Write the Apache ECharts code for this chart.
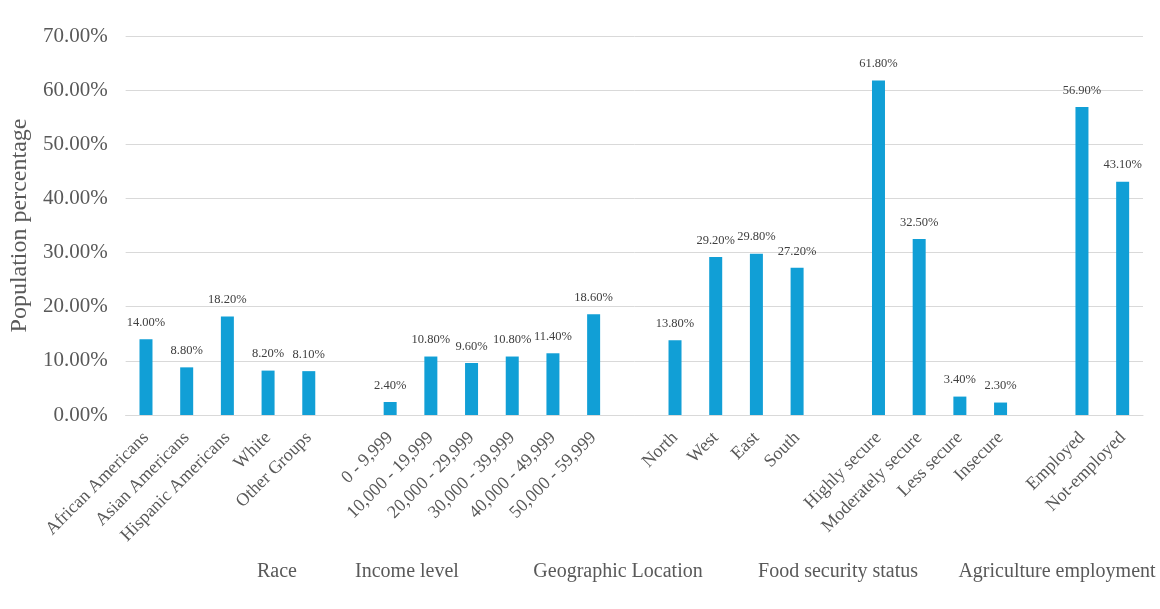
<!DOCTYPE html>
<html>
<head>
<meta charset="utf-8">
<script src="https://cdn.jsdelivr.net/npm/echarts@6/dist/echarts.min.js"></script>
<style>html,body{margin:0;padding:0;background:#fff}#c{width:1160px;height:609px}</style>
</head>
<body>
<div id="c"></div>
<script>
const categories = ['African Americans','Asian Americans','Hispanic Americans','White','Other Groups','',
  '0 - 9,999','10,000 - 19,999','20,000 - 29,999','30,000 - 39,999','40,000 - 49,999','50,000 - 59,999','',
  'North','West','East','South','',
  'Highly secure','Moderately secure','Less secure','Insecure','',
  'Employed','Not-employed'];
const values = [14.0, 8.8, 18.2, 8.2, 8.1, null,
  2.4, 10.8, 9.6, 10.8, 11.4, 18.6, null,
  13.8, 29.2, 29.8, 27.2, null,
  61.8, 32.5, 3.4, 2.3, null,
  56.9, 43.1];
const groupLabels = ['Race','Income level','Geographic Location','Food security status','Agriculture employment'];
const groupLabelX = [277, 407, 618, 838, 1057];
const yTicks = [0,10,20,30,40,50,60,70];

const font = '"Liberation Serif", "Times New Roman", serif';
const chart = echarts.init(document.getElementById('c'));
chart.setOption({
  animation: false,
  backgroundColor: '#fff',
  grid: {left: 121, right: 17, top: 36, bottom: 194, containLabel: false},
  xAxis: {
    type: 'category', data: categories,
    axisLine: {lineStyle: {color: '#d9d9d9', width: 1}},
    axisTick: {show: false},
    axisLabel: {interval: 0, rotate: 45, fontFamily: font, fontSize: 18, color: '#595959', margin: 20}
  },
  yAxis: {
    type: 'value', min: 0, max: 70, interval: 10,
    name: 'Population percentage', nameLocation: 'middle', nameGap: 88, nameRotate: 90,
    nameTextStyle: {fontFamily: font, fontSize: 24, color: '#595959'},
    axisLine: {show: false}, axisTick: {show: false},
    axisLabel: {fontFamily: font, fontSize: 21, color: '#595959', margin: 18,
      formatter: v => v.toFixed(2) + '%'},
    splitLine: {lineStyle: {color: '#d9d9d9', width: 1}}
  },
  series: [{
    type: 'bar', data: values, barWidth: 13,
    itemStyle: {color: '#119fd6'},
    label: {show: true, position: 'top', distance: 10, fontFamily: font, fontSize: 12.5, color: '#404040',
      formatter: p => p.value == null ? '' : p.value.toFixed(2) + '%'}
  }],
  graphic: groupLabels.map((t, i) => ({
    type: 'text', x: groupLabelX[i], y: 572,
    style: {text: t, font: '20px ' + font, fill: '#595959', textAlign: 'center', textVerticalAlign: 'middle'}
  }))
});
</script>
</body>
</html>
